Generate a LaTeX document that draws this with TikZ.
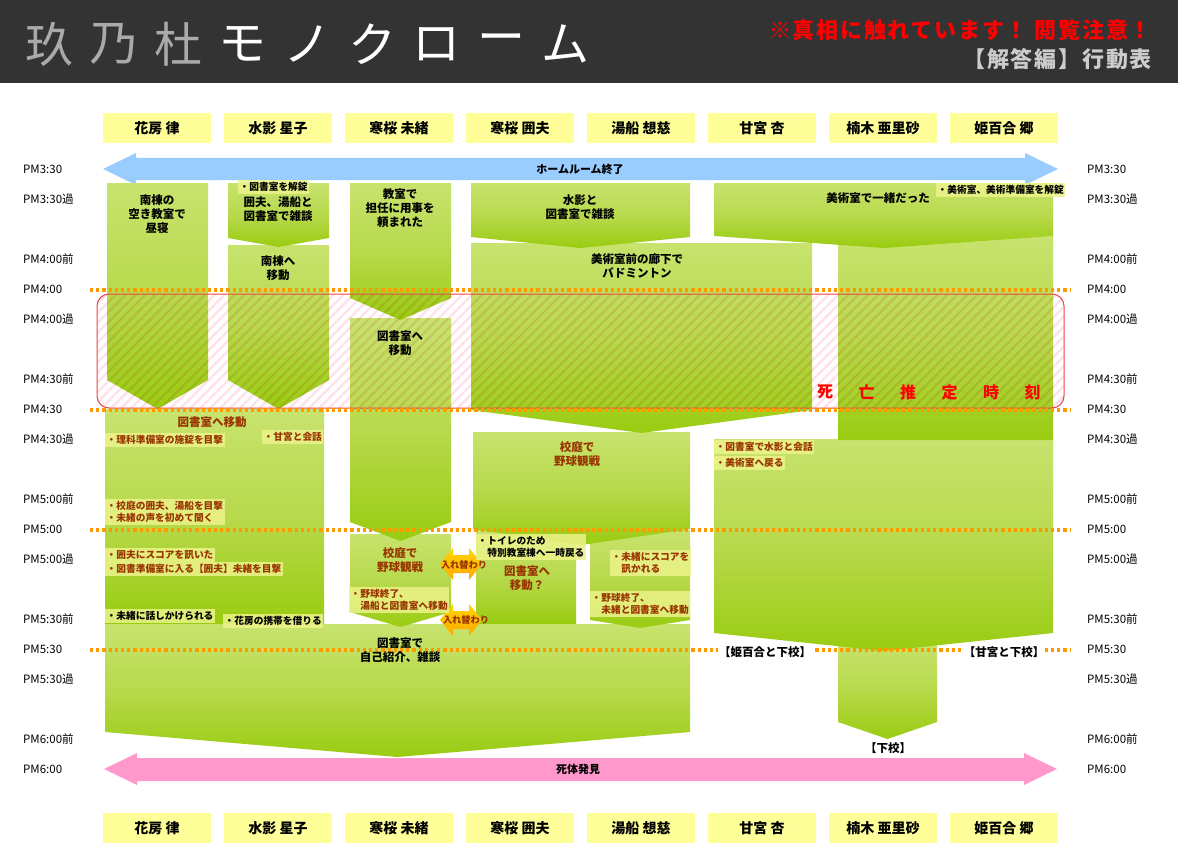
\documentclass[tikz,border=0pt]{standalone}
\usepackage{fontspec}
\setmainfont{Noto Sans CJK JP}
\usepackage{tikz}
\usetikzlibrary{patterns.meta}

\definecolor{hdrbg}{HTML}{333333}
\definecolor{ttlgray}{HTML}{AAAAAA}
\definecolor{warnred}{HTML}{FF0000}
\definecolor{subgray}{HTML}{CCCCCC}
\definecolor{nmyel}{HTML}{FFFF99}
\definecolor{hrblue}{HTML}{99CCFF}
\definecolor{dpink}{HTML}{FF99CC}
\definecolor{gtop}{HTML}{C8E36E}
\definecolor{gmid}{HTML}{B8D94C}
\definecolor{gbot}{HTML}{99CC11}
\definecolor{brn}{HTML}{993300}
\definecolor{notey}{HTML}{ECF38A}
\definecolor{dotor}{HTML}{FF9900}
\definecolor{rimred}{HTML}{EE4444}
\definecolor{hatch}{HTML}{FFE2EC}
\definecolor{swtop}{HTML}{FFD400}
\definecolor{swbot}{HTML}{FFA800}

% green step block: x1, x2, top, side bottom, tip
\newcommand{\blk}[5]{\shade[gblk] (#1,#3) -- (#2,#3) -- (#2,#4) -- ({(#1+#2)/2},#5) -- (#1,#4) -- cycle;}
% swap arrow at height y
\newcommand{\swp}[1]{\shade[swap] (440,#1) -- (453,#1-16) -- (453,#1-9) -- (469,#1-9) -- (469,#1-16) -- (482,#1) -- (469,#1+16) -- (469,#1+9) -- (453,#1+9) -- (453,#1+16) -- cycle;}

\begin{document}
\begin{tikzpicture}[x=1pt, y=-1pt,
  nm/.style={fill=nmyel, minimum width=108, minimum height=30, inner sep=0, font=\fontsize{14}{16}\selectfont\bfseries},
  tm/.style={anchor=west, inner sep=0, font=\fontsize{11.5}{13}\selectfont},
  hd/.style={inner sep=0, font=\fontsize{48}{48}\selectfont},
  albl/.style={inner sep=0, font=\fontsize{11}{13}\selectfont\bfseries},
  gblk/.style={top color=gtop, bottom color=gbot, middle color=gmid},
  swap/.style={top color=swtop, bottom color=swbot},
  ttl/.style={align=center, inner sep=0, font=\fontsize{11.5}{14}\selectfont\bfseries},
  note/.style={anchor=west, align=left, fill=notey, fill opacity=0.85, text opacity=1, text=brn,
    inner xsep=1.5pt, inner ysep=2pt, font=\fontsize{9.7}{12.5}\selectfont\bfseries},
  lbl/.style={inner sep=1pt, font=\fontsize{11.5}{13}\selectfont\bfseries},
  dth/.style={inner sep=0, text=warnred, font=\fontsize{16}{16}\selectfont\bfseries},
  dots/.style={dotor, line width=3.2, dash pattern=on 3.2pt off 3pt},
]
  \useasboundingbox (0,0) rectangle (1178,856);
  \fill[white] (0,0) rectangle (1178,856);

  % header
  \fill[hdrbg] (0,0) rectangle (1178,83);
  \foreach \c [count=\i from 0] in {玖,乃,杜}
    \node[hd, text=ttlgray] (h\i) at (49+64.6*\i,44) {\c};
  \foreach \c [count=\i from 3] in {モ,ノ,ク,ロ,ー,ム}
    \node[hd, text=white] (h\i) at (49+64.6*\i,44) {\c};
  \node[anchor=east, inner sep=0, text=warnred, font=\fontsize{22}{22}\selectfont\bfseries\addfontfeature{LetterSpace=8}] (warn) at (1152,30) {※真相に触れています！ 閲覧注意！};
  \node[anchor=east, inner sep=0, text=subgray, font=\fontsize{22}{22}\selectfont\bfseries\addfontfeature{LetterSpace=8}] (sub) at (1152,59) {【解答編】行動表};

  % names
  \foreach \n [count=\i from 0] in {花房 律, 水影 星子, 寒桜 未緒, 寒桜 囲夫, 湯船 想慈, 甘宮 杏, 楠木 亜里砂, 姫百合 郷} {
    \node[nm] (nt\i) at (157+121*\i,128) {\n};
    \node[nm] (nb\i) at (157+121*\i,828) {\n};
  }

  % times
  \foreach \y/\t [count=\i] in {169/PM3:30, 199/PM3:30過, 259/PM4:00前, 289/PM4:00, 319/PM4:00過, 379/PM4:30前, 409/PM4:30, 439/PM4:30過, 499/PM5:00前, 529/PM5:00, 559/PM5:00過, 619/PM5:30前, 649/PM5:30, 679/PM5:30過, 739/PM6:00前, 769/PM6:00} {
    \node[tm] (tl\i) at (23,\y) {\t};
    \node[tm] (tr\i) at (1087,\y) {\t};
  }

  % start and end
  \fill[hrblue] (103,169) -- (136,153) -- (136,158) -- (1025,158) -- (1025,153) -- (1058,169) -- (1025,185) -- (1025,180) -- (136,180) -- (136,185) -- cycle;
  \node[albl] (hr) at (580,169) {ホームルーム終了};
  \fill[dpink] (104,769) -- (137,753) -- (137,758) -- (1024,758) -- (1024,753) -- (1057,769) -- (1024,785) -- (1024,781) -- (137,781) -- (137,785) -- cycle;
  \node[albl] (found) at (578,769) {死体発見};

  % blocks, later ones first
  \blk{838}{937}{640}{722}{739}
  \blk{105}{690}{624}{732}{757}
  \blk{714}{1053}{439}{633}{651}
  \blk{476}{576}{530}{624}{624}
  \blk{590}{690}{530}{620}{628}
  \blk{350}{451}{534}{612}{627}
  \blk{105}{324}{409}{624}{624}
  \blk{473}{690}{432}{529}{545}
  \blk{350}{451}{318}{522}{541}
  \blk{838}{1053}{236}{440}{440}
  \blk{471}{812}{243}{410}{433}
  \blk{228}{329}{245}{380}{409}
  \blk{107}{208}{183}{380}{409}
  \blk{350}{451}{183}{298}{320}
  \blk{471}{690}{183}{237}{248}
  \blk{714}{1053}{183}{236}{248}
  \blk{228}{329}{183}{238}{247}

  % time of death
  \begin{scope}[blend mode=multiply]
    \fill[rounded corners=12, pattern={Lines[angle=45, distance=7pt, line width=2.4pt]}, pattern color=hatch] (97,294) rectangle (1064,408);
  \end{scope}
  \draw[rimred, line width=1, rounded corners=12] (97,294) rectangle (1064,408);

  \foreach \y in {290,410,530,650}
    \draw[dots] (90,\y) -- (1070,\y);

  % swaps
  \swp{564}
  \swp{620}
  \node[albl, text=brn, font=\fontsize{9.2}{11}\selectfont\bfseries] (sw1) at (464,565) {入れ替わり};
  \node[albl, text=brn, font=\fontsize{9.2}{11}\selectfont\bfseries] (sw2) at (466,620) {入れ替わり};

  % titles
  \node[ttl] (t1) at (157,214) {南棟の\\空き教室で\\昼寝};
  \node[ttl] (t2a) at (278,209) {囲夫、湯船と\\図書室で雑談};
  \node[ttl] (t2b) at (278,268) {南棟へ\\移動};
  \node[ttl] (t3a) at (400,208) {教室で\\担任に用事を\\頼まれた};
  \node[ttl] (t3b) at (400,343) {図書室へ\\移動};
  \node[ttl, text=brn] (t3c) at (400,560) {校庭で\\野球観戦};
  \node[ttl] (t45a) at (580,207) {水影と\\図書室で雑談};
  \node[ttl] (t456) at (637,266) {美術室前の廊下で\\バドミントン};
  \node[ttl] (t678) at (878,198) {美術室で一緒だった};
  \node[ttl, text=brn] (t12) at (212,422) {図書室へ移動};
  \node[ttl, text=brn] (t45b) at (577,454) {校庭で\\野球観戦};
  \node[ttl, text=brn] (t4) at (527,578) {図書室へ\\移動？};
  \node[ttl] (tlib) at (400,650) {図書室で\\自己紹介、雑談};

  % notes
  \node[note, text=black] (n1) at (238,187) {・図書室を解錠};
  \node[note, text=black] (n2) at (936,190) {・美術室、美術準備室を解錠};
  \node[note] (n3) at (105,440) {・理科準備室の施錠を目撃};
  \node[note] (n4) at (262,437) {・甘宮と会話};
  \node[note] (n5) at (105,512) {・校庭の囲夫、湯船を目撃\\・未緒の声を初めて聞く};
  \node[note] (n6) at (105,555) {・囲夫にスコアを訊いた};
  \node[note] (n7) at (105,569) {・図書準備室に入る【囲夫】未緒を目撃};
  \node[note, text=black] (n8) at (105,616) {・未緒に話しかけられる};
  \node[note, text=black] (n9) at (223,621) {・花房の携帯を借りる};
  \node[note] (n10) at (349,600) {・野球終了、\\\phantom{・}湯船と図書室へ移動};
  \node[note, text=black] (n11) at (476,547) {・トイレのため\\\phantom{・}特別教室棟へ一時戻る};
  \node[note] (n12) at (610,563) {・未緒にスコアを\\\phantom{・}訊かれる};
  \node[note] (n13) at (590,604) {・野球終了、\\\phantom{・}未緒と図書室へ移動};
  \node[note] (n14) at (714,447) {・図書室で水影と会話};
  \node[note] (n15) at (714,463) {・美術室へ戻る};

  % going home
  \node[lbl, fill=white] (gh1) at (765,652) {【姫百合と下校】};
  \node[lbl, fill=white] (gh2) at (1004,652) {【甘宮と下校】};
  \node[lbl] (gh3) at (888,748) {【下校】};

  \foreach \c [count=\i from 0] in {死,亡,推,定,時,刻}
    \node[dth] (d\i) at (825+41.5*\i,392) {\c};
\end{tikzpicture}
\end{document}
